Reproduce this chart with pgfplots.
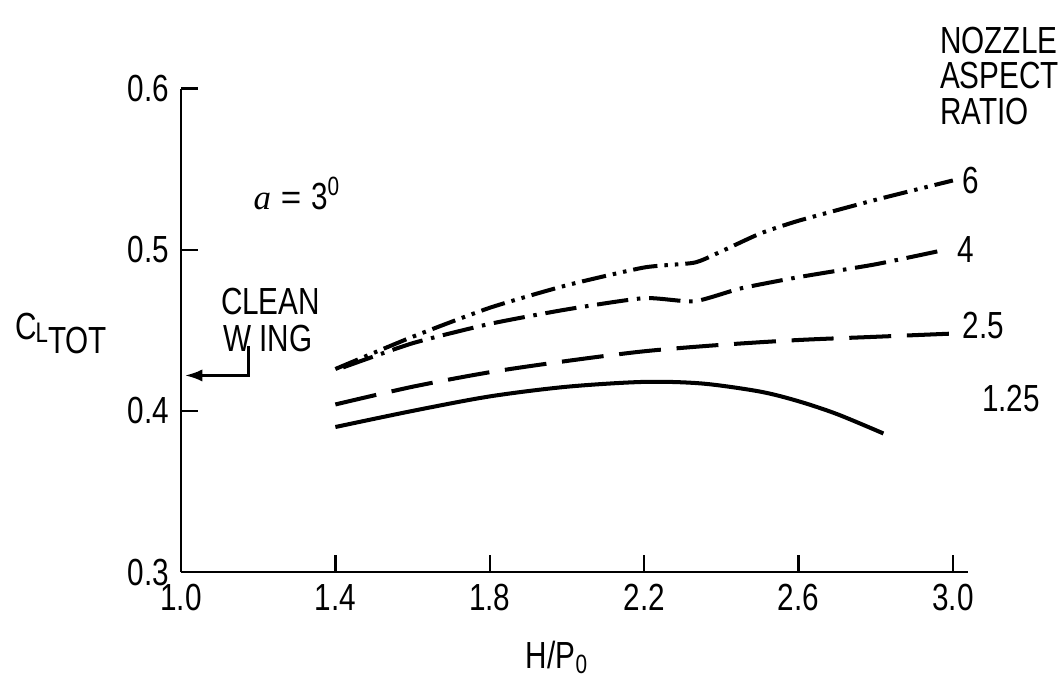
\documentclass[border=0pt]{standalone}
\usepackage{fontspec}
\setmainfont{Liberation Sans}
\newfontfamily\serifrm{Liberation Serif}
\usepackage{pgfplots}
\pgfplotsset{compat=1.18}
\usetikzlibrary{arrows.meta}
\newcommand\N[1]{\scalebox{0.85}[1.08]{#1}}
\begin{document}
\fontsize{20}{23}\selectfont
\begin{tikzpicture}
\begin{axis}[
  x=7.76cm, y=32.4cm,
  xmin=1.0, xmax=3.04, ymin=0.3, ymax=0.6,
  axis x line=bottom, axis y line=left,
  axis line style={-, line width=1.6pt},
  clip=false,
  xtick={1.0,1.4,1.8,2.2,2.6,3.0},
  ytick={0.3,0.4,0.5,0.6},
  xticklabels={\N{1.0},\N{1.4},\N{1.8},\N{2.2},\N{2.6},\N{3.0}},
  yticklabels={\N{0.3},\N{0.4},\N{0.5},\N{0.6}},
  tick align=inside,
  major tick length=0.35cm,
  tick style={line width=1.4pt, black},
  every tick label/.append style={font=\fontsize{20}{23}\selectfont},
]
\path (axis cs:0.531,0.229) rectangle (axis cs:3.26,0.655);
% 6
\addplot[black, line width=2.3pt, smooth, tension=0.35, dash pattern=on 14pt off 4pt on 2pt off 4pt on 2pt off 4pt] coordinates {
(1.4,0.426) (1.6,0.446) (1.8,0.464) (2.0,0.478) (2.2,0.489) (2.33,0.492) (2.4,0.499) (2.5,0.510) (2.6,0.518) (2.8,0.531) (3.0,0.543)};
% 4
\addplot[black, line width=2.3pt, smooth, tension=0.35, dash pattern=on 18pt off 5pt on 2pt off 5pt] coordinates {
(1.42,0.427) (1.6,0.442) (1.8,0.454) (2.0,0.463) (2.2,0.470) (2.33,0.468) (2.45,0.476) (2.6,0.483) (2.8,0.491) (2.98,0.500)};
% 2.5
\addplot[black, line width=2.3pt, smooth, dash pattern=on 24pt off 9pt] coordinates {
(1.4,0.404) (1.6,0.415) (1.8,0.424) (2.0,0.431) (2.2,0.437) (2.4,0.441) (2.6,0.444) (2.8,0.446) (3.0,0.448)};
% 1.25
\addplot[black, line width=2.3pt, smooth] coordinates {
(1.4,0.390) (1.6,0.400) (1.8,0.409) (2.0,0.415) (2.2,0.418) (2.35,0.417) (2.5,0.412) (2.6,0.406) (2.7,0.398) (2.82,0.386)};
% clean wing arrow
\draw[line width=1.6pt, -{Latex[length=10pt,width=7pt]}] (axis cs:1.175,0.440) -- (axis cs:1.175,0.422) -- (axis cs:1.01,0.422);
\node[anchor=center] at (axis cs:1.232,0.468) {\N{CLEAN}};
\node[anchor=center] at (axis cs:1.225,0.445) {\N{W ING}};
\node at (axis cs:1.30,0.535) {{\serifrm\itshape a} = \N{3\textsuperscript{0}}};
\node[anchor=west, inner sep=0pt] at (axis cs:2.966,0.630) {\N{NOZZLE}};
\node[anchor=west, inner sep=0pt] at (axis cs:2.966,0.608) {\N{ASPECT}};
\node[anchor=west, inner sep=0pt] at (axis cs:2.966,0.586) {\N{RATIO}};
\node[anchor=west, inner sep=0pt] at (axis cs:3.025,0.543) {\N{6}};
\node[anchor=west, inner sep=0pt] at (axis cs:3.012,0.500) {\N{4}};
\node[anchor=west, inner sep=0pt] at (axis cs:3.025,0.453) {\N{2.5}};
\node[anchor=west, inner sep=0pt] at (axis cs:3.075,0.408) {\N{1.25}};
\node at (axis cs:1.974,0.247) {\N{H/P\textsubscript{0}}};
\node at (axis cs:0.69,0.448) {\N{C\kern-0.05em\raisebox{-0.15ex}{\fontsize{15}{15}\selectfont L}\raisebox{-0.7ex}{TOT}}};
\end{axis}
\end{tikzpicture}
\end{document}
